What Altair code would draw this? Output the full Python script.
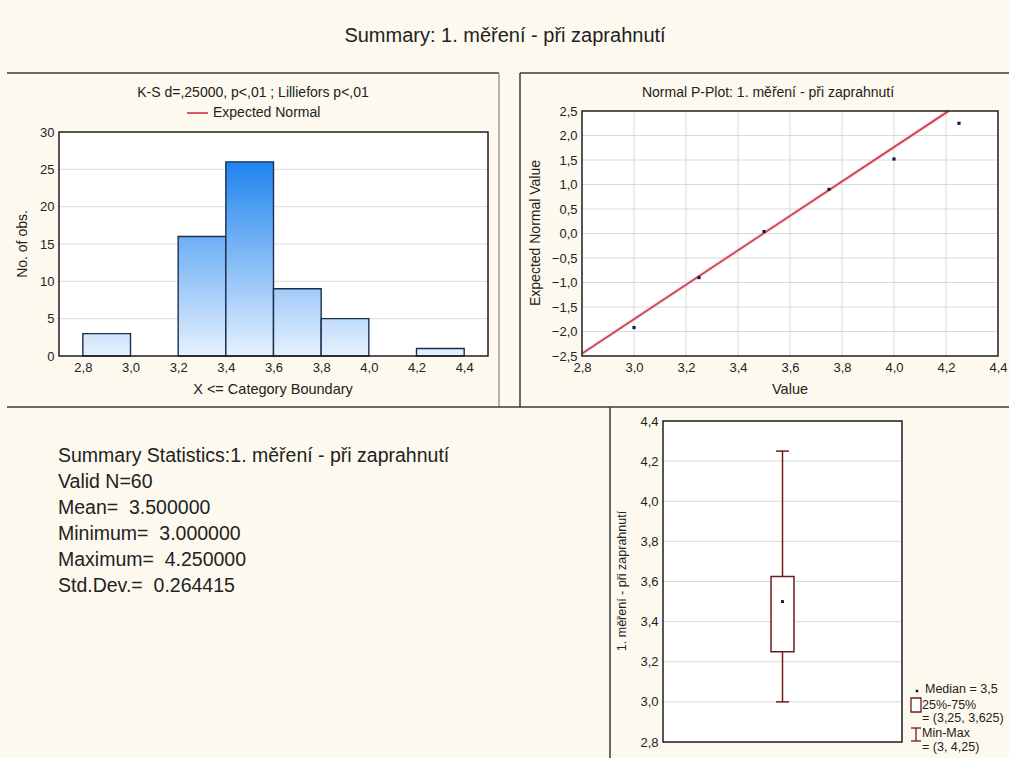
import altair as alt
import pandas as pd

W, H = 1009, 758
BG = "#fdf9ef"
FONT = "Liberation Sans"
INK = "#222222"
GRID = "#d9d9d9"
FRAME = "#1e1e1e"
BOXRED = "#6e1c1c"

# ---- histogram: bin edges and observed counts ----
bin_lo = [2.8, 3.2, 3.4, 3.6, 3.8, 4.2]
bin_hi = [3.0, 3.4, 3.6, 3.8, 4.0, 4.4]
counts = [3, 16, 26, 9, 5, 1]
hist_xdomain = [2.7, 4.5]
hist_ydomain = [0, 30]
hist_xticks = [2.8, 3.0, 3.2, 3.4, 3.6, 3.8, 4.0, 4.2, 4.4]
hist_yticks = [0, 5, 10, 15, 20, 25, 30]
hist_ygrid = [5, 10, 15, 20, 25]

# ---- normal probability plot ----
pp_value = [3.0, 3.25, 3.5, 3.75, 4.0, 4.25]
pp_expected = [-1.92, -0.90, 0.04, 0.90, 1.52, 2.25]
fit_value = [2.8, 4.21]
fit_expected = [-2.45, 2.5]
pp_xdomain = [2.8, 4.4]
pp_ydomain = [-2.5, 2.5]
pp_xticks = [2.8, 3.0, 3.2, 3.4, 3.6, 3.8, 4.0, 4.2, 4.4]
pp_yticks = [-2.5, -2.0, -1.5, -1.0, -0.5, 0.0, 0.5, 1.0, 1.5, 2.0, 2.5]
pp_xgrid = [3.0, 3.2, 3.4, 3.6, 3.8, 4.0, 4.2]
pp_ygrid = [-2.0, -1.5, -1.0, -0.5, 0.0, 0.5, 1.0, 1.5, 2.0]

# ---- box plot ----
box_min = [3.0]
box_q1 = [3.25]
box_median = [3.5]
box_q3 = [3.625]
box_max = [4.25]
box_ydomain = [2.8, 4.4]
box_yticks = [2.8, 3.0, 3.2, 3.4, 3.6, 3.8, 4.0, 4.2, 4.4]
box_ygrid = [3.0, 3.2, 3.4, 3.6, 3.8, 4.0, 4.2]

NB = "\u00a0"  # keeps the double spacing after "=" in SVG text
summary_lines = [
    "Summary Statistics:1. měření - při zaprahnutí",
    "Valid N=60",
    f"Mean={NB}{NB}3.500000",
    f"Minimum={NB}{NB}3.000000",
    f"Maximum={NB}{NB}4.250000",
    f"Std.Dev.={NB}{NB}0.264415",
]

COMMA = "replace(format(datum.value, '.1f'), '.', ',')"

one = pd.DataFrame({"k": [0]})
hist_df = pd.DataFrame({"lo": bin_lo, "hi": bin_hi, "count": counts, "bin": list(range(len(counts)))})
pp_df = pd.DataFrame({"value": pp_value, "expected": pp_expected})
fit_df = pd.DataFrame({"value": fit_value, "expected": fit_expected})
box_df = pd.DataFrame({"min": box_min, "q1": box_q1, "median": box_median, "q3": box_q3, "max": box_max})

# pixel placement of the three plot areas
hx = alt.Scale(domain=hist_xdomain, range=[59, 488], nice=False, zero=False)
hy = alt.Scale(domain=hist_ydomain, range=[356, 132], nice=False, zero=False)
px = alt.Scale(domain=pp_xdomain, range=[582, 998], nice=False, zero=False)
py = alt.Scale(domain=pp_ydomain, range=[356, 111], nice=False, zero=False)
bx = alt.Scale(domain=[0, 1], range=[663, 902], nice=False, zero=False)
by = alt.Scale(domain=box_ydomain, range=[742, 421], nice=False, zero=False)


def axis(orient, offset, values, expr=None):
    kw = dict(
        orient=orient, offset=offset, values=values, domain=False, ticks=False,
        grid=False, title=None, labelFont=FONT, labelFontSize=13,
        labelColor=INK, labelPadding=5, labelFlush=False, labelOverlap=False,
    )
    if expr:
        kw["labelExpr"] = expr
    return alt.Axis(**kw)


def text(t, x, y, size=13, angle=0, align="center", **kw):
    props = dict(text=t, font=FONT, fontSize=size, color=INK, align=align,
                 baseline="middle", **kw)
    if angle:
        props["angle"] = angle
    return alt.Chart(one).mark_text(**props).encode(x=alt.value(x), y=alt.value(y))


def hline(x1, x2, y, color="#3a3a3a", w=1.5):
    return alt.Chart(one).mark_rule(color=color, strokeWidth=w).encode(
        x=alt.value(x1), x2=alt.value(x2), y=alt.value(y))


def vline(x, y1, y2, color="#3a3a3a", w=1.5):
    return alt.Chart(one).mark_rule(color=color, strokeWidth=w).encode(
        x=alt.value(x), y=alt.value(y1), y2=alt.value(y2))


def mix(a, b, t):
    ca = [int(a[i:i + 2], 16) for i in (1, 3, 5)]
    cb = [int(b[i:i + 2], 16) for i in (1, 3, 5)]
    return "#" + "".join(f"{round(p + (q - p) * t):02x}" for p, q in zip(ca, cb))


def plot_area(xs, ys, xd, yd, filled):
    props = dict(fill="white") if filled else dict(fillOpacity=0, stroke=FRAME, strokeWidth=1.5)
    return alt.Chart(one).mark_rect(**props).encode(
        x=alt.X(datum=xd[0], type="quantitative", scale=xs, axis=None),
        x2=alt.X2(datum=xd[1]),
        y=alt.Y(datum=yd[0], type="quantitative", scale=ys, axis=None),
        y2=alt.Y2(datum=yd[1]),
    )


layers = []

# panel borders
layers += [
    hline(7, 499, 73), hline(520, W, 73),
    vline(499, 73, 407, color="#9a9a9a"), vline(520, 73, 407),
    hline(7, W, 407), vline(610, 407, H),
]

# ---------------- histogram ----------------
layers.append(plot_area(hx, hy, hist_xdomain, hist_ydomain, True))
layers.append(
    alt.Chart(pd.DataFrame({"g": hist_ygrid})).mark_rule(color=GRID, strokeWidth=1).encode(
        y=alt.Y("g:Q", scale=hy, axis=None),
        x=alt.X(datum=hist_xdomain[0], type="quantitative", scale=hx, axis=None),
        x2=alt.X2(datum=hist_xdomain[1]),
    )
)
DARK, LIGHT = "#1f84ef", "#e6f1fd"
top = max(counts)
for i, c in enumerate(counts):
    grad = alt.LinearGradient(
        gradient="linear", x1=0, x2=0, y1=1, y2=0,
        stops=[alt.GradientStop(offset=0, color=LIGHT),
               alt.GradientStop(offset=1, color=mix(LIGHT, DARK, c / top))],
    )
    layers.append(
        alt.Chart(hist_df).transform_filter(alt.datum.bin == i).mark_rect(
            fill=grad, stroke="#1b2d52", strokeWidth=1.4
        ).encode(
            x=alt.X("lo:Q", scale=hx, axis=None), x2="hi:Q",
            y=alt.Y("count:Q", scale=hy, axis=None), y2=alt.Y2(datum=0),
        )
    )
# frame + axes
layers.append(
    plot_area(hx, hy, hist_xdomain, hist_ydomain, False).encode(
        x=alt.X(datum=hist_xdomain[0], type="quantitative", scale=hx,
                axis=axis("bottom", 356 - H, hist_xticks, COMMA)),
        y=alt.Y(datum=hist_ydomain[0], type="quantitative", scale=hy,
                axis=axis("left", -59, hist_yticks)),
    )
)
layers += [
    text("K-S d=,25000, p<,01 ; Lilliefors p<,01", 253, 93, 14),
    hline(187, 208, 113, color="#c8283c", w=1.5),
    text("Expected Normal", 213, 113, 14, align="left"),
    text("No. of obs.", 23, 244, 14, angle=270),
    text("X <= Category Boundary", 273, 390, 14.5),
]

# ---------------- normal probability plot ----------------
layers.append(plot_area(px, py, pp_xdomain, pp_ydomain, True))
layers.append(
    alt.Chart(pd.DataFrame({"g": pp_ygrid})).mark_rule(color=GRID, strokeWidth=1).encode(
        y=alt.Y("g:Q", scale=py, axis=None),
        x=alt.X(datum=pp_xdomain[0], type="quantitative", scale=px, axis=None),
        x2=alt.X2(datum=pp_xdomain[1]),
    )
)
layers.append(
    alt.Chart(pd.DataFrame({"g": pp_xgrid})).mark_rule(color=GRID, strokeWidth=1).encode(
        x=alt.X("g:Q", scale=px, axis=None),
        y=alt.Y(datum=pp_ydomain[0], type="quantitative", scale=py, axis=None),
        y2=alt.Y2(datum=pp_ydomain[1]),
    )
)
layers.append(
    alt.Chart(fit_df).mark_line(color="#eeaab2", strokeWidth=3.5, opacity=0.55).encode(
        x=alt.X("value:Q", scale=px, axis=None), y=alt.Y("expected:Q", scale=py, axis=None))
)
layers.append(
    alt.Chart(fit_df).mark_line(color="#c8374a", strokeWidth=1.5).encode(
        x=alt.X("value:Q", scale=px, axis=None), y=alt.Y("expected:Q", scale=py, axis=None))
)
layers.append(
    alt.Chart(pp_df).mark_square(size=10, color="#161650", opacity=1).encode(
        x=alt.X("value:Q", scale=px, axis=None), y=alt.Y("expected:Q", scale=py, axis=None))
)
layers.append(
    plot_area(px, py, pp_xdomain, pp_ydomain, False).encode(
        x=alt.X(datum=pp_xdomain[0], type="quantitative", scale=px,
                axis=axis("bottom", 356 - H, pp_xticks, COMMA)),
        y=alt.Y(datum=pp_ydomain[0], type="quantitative", scale=py,
                axis=axis("left", -582, pp_yticks, COMMA)),
    )
)
layers += [
    text("Normal P-Plot: 1. měření - při zaprahnutí", 768, 93, 14),
    text("Expected Normal Value", 536, 233, 14, angle=270),
    text("Value", 790, 390, 14.5),
]

# ---------------- box plot ----------------
layers.append(plot_area(bx, by, [0, 1], box_ydomain, True))
layers.append(
    alt.Chart(pd.DataFrame({"g": box_ygrid})).mark_rule(color=GRID, strokeWidth=1).encode(
        y=alt.Y("g:Q", scale=by, axis=None),
        x=alt.X(datum=0, type="quantitative", scale=bx, axis=None),
        x2=alt.X2(datum=1),
    )
)
layers.append(
    alt.Chart(box_df).mark_rule(color=BOXRED, strokeWidth=1.5).encode(
        x=alt.X(datum=0.5, type="quantitative", scale=bx, axis=None),
        y=alt.Y("min:Q", scale=by, axis=None), y2="max:Q")
)
for field in ["min", "max"]:
    layers.append(
        alt.Chart(box_df).mark_rule(color=BOXRED, strokeWidth=1.5).encode(
            x=alt.X(datum=0.473, type="quantitative", scale=bx, axis=None),
            x2=alt.X2(datum=0.527),
            y=alt.Y(f"{field}:Q", scale=by, axis=None))
    )
layers.append(
    alt.Chart(box_df).mark_rect(fill="white", stroke=BOXRED, strokeWidth=1.5).encode(
        x=alt.X(datum=0.452, type="quantitative", scale=bx, axis=None),
        x2=alt.X2(datum=0.548),
        y=alt.Y("q1:Q", scale=by, axis=None), y2="q3:Q")
)
layers.append(
    alt.Chart(box_df).mark_square(size=8, color="#111111", opacity=1).encode(
        x=alt.X(datum=0.5, type="quantitative", scale=bx, axis=None),
        y=alt.Y("median:Q", scale=by, axis=None))
)
layers.append(
    plot_area(bx, by, [0, 1], box_ydomain, False).encode(
        y=alt.Y(datum=box_ydomain[0], type="quantitative", scale=by,
                axis=axis("left", -663, box_yticks, COMMA)),
    )
)
layers.append(text("1. měření - při zaprahnutí", 622, 581, 12.5, angle=270))

# box plot key
layers += [
    alt.Chart(one).mark_square(size=6, color="#111111", opacity=1).encode(
        x=alt.value(917), y=alt.value(691)),
    text("Median = 3,5", 925, 689, 12.5, align="left"),
    alt.Chart(one).mark_rect(fill="white", stroke=BOXRED, strokeWidth=1.3).encode(
        x=alt.value(911), x2=alt.value(921), y=alt.value(698), y2=alt.value(712)),
    text("25%-75%", 922, 705, 12.5, align="left"),
    text("= (3,25, 3,625)", 922, 718, 12.5, align="left"),
    vline(916, 728, 741, color=BOXRED, w=1.3),
    hline(911, 921, 728, color=BOXRED, w=1.3),
    hline(911, 921, 741, color=BOXRED, w=1.3),
    text("Min-Max", 922, 733, 12.5, align="left"),
    text("= (3, 4,25)", 922, 747, 12.5, align="left"),
]

# ---------------- titles and summary text ----------------
layers.append(text("Summary: 1. měření - při zaprahnutí", 505, 36, 20))
layers.append(
    alt.Chart(one).mark_text(
        text=summary_lines, font=FONT, fontSize=19.5, color=INK, align="left",
        baseline="top", lineHeight=26,
    ).encode(x=alt.value(58), y=alt.value(447))
)

chart = alt.layer(*layers).resolve_scale(
    x="independent", y="independent"
).properties(
    width=W, height=H, padding=0, background=BG,
    autosize=alt.AutoSizeParams(type="none"),
).configure_view(stroke=None)

chart.save("out.html", embed_options={"renderer": "svg", "actions": False})
